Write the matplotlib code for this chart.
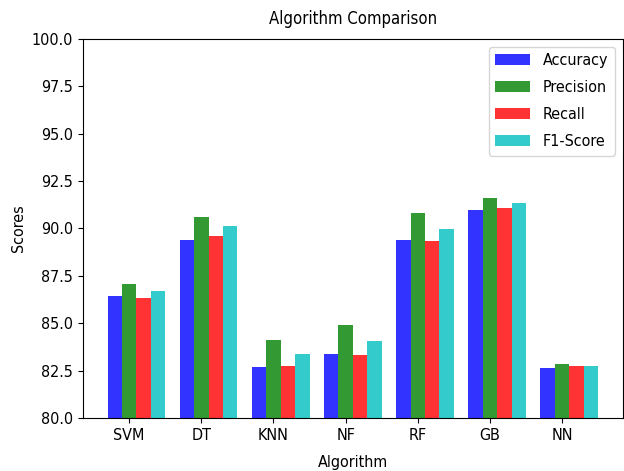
import matplotlib
matplotlib.use("Agg")
import matplotlib.pyplot as plt
import numpy as np

plt.rcParams["font.family"] = "DejaVu Sans"
plt.rcParams["font.stretch"] = "condensed"
plt.rcParams["font.size"] = 11.5

algorithms = ["SVM", "DT", "KNN", "NF", "RF", "GB", "NN"]
accuracy = [86.44, 89.39, 82.71, 83.38, 89.39, 90.98, 82.62]
precision = [87.07, 90.59, 84.10, 84.89, 90.80, 91.61, 82.85]
recall = [86.32, 89.62, 82.74, 83.31, 89.32, 91.07, 82.74]
f1_score = [86.68, 90.13, 83.36, 84.05, 89.99, 91.33, 82.76]

series = [("Accuracy", accuracy, "b"),
          ("Precision", precision, "g"),
          ("Recall", recall, "r"),
          ("F1-Score", f1_score, "c")]

fig = plt.figure(figsize=(6.24, 4.71), dpi=100)
ax = fig.add_axes([0.133, 0.1125, 0.865, 0.805])

x = np.arange(len(algorithms))
width = 0.2
for i, (name, vals, col) in enumerate(series):
    ax.bar(x + i * width, vals, width, color=col, alpha=0.8, label=name)

ax.set_xticks(x + width)
ax.set_xticklabels(algorithms)
ax.set_ylim(80, 100)
ax.set_yticks(np.arange(80, 100.1, 2.5))
ax.set_xlabel("Algorithm", labelpad=9)
ax.set_ylabel("Scores")
ax.set_title("Algorithm Comparison", fontsize=12, pad=11)
ax.legend(loc="upper right", handlelength=2.2, labelspacing=0.75)

fig.savefig("out.png", dpi=100)
